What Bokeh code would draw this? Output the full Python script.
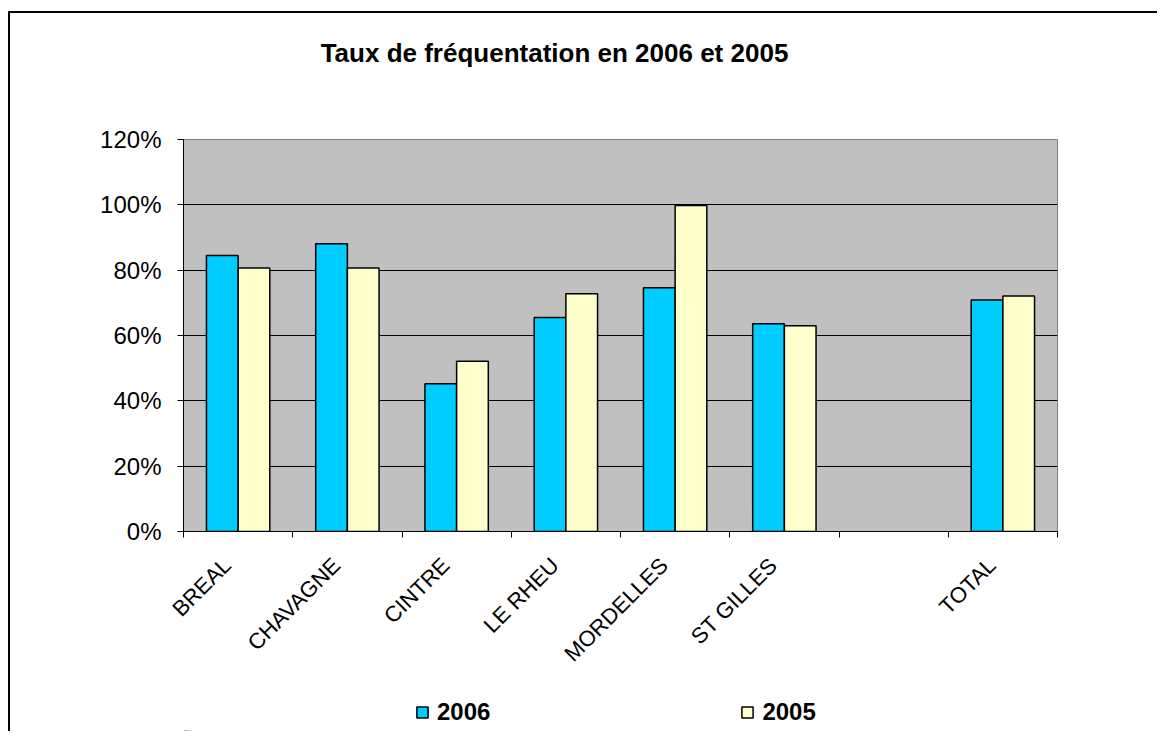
import math
from bokeh.plotting import figure
from bokeh.layouts import column
from bokeh.models import (ColumnDataSource, FixedTicker, NumeralTickFormatter, Range1d,
                          Legend, LegendItem, Label)
from bokeh.embed import file_html
from bokeh.resources import INLINE

# ---- data ----
categories = ["BREAL", "CHAVAGNE", "CINTRE", "LE RHEU", "MORDELLES", "ST GILLES", "", "TOTAL"]
values_2006 = [0.845, 0.881, 0.452, 0.655, 0.746, 0.636, None, 0.709]
values_2005 = [0.807, 0.807, 0.521, 0.728, 0.998, 0.630, None, 0.721]
y_ticks = [0.0, 0.2, 0.4, 0.6, 0.8, 1.0, 1.2]
title_text = "Taux de fréquentation en 2006 et 2005"
series_names = ["2006", "2005"]
colors = ["#00CCFF", "#FFFFCC"]

FONT = "Liberation Sans"
W = 1147
FW = 874

n = len(categories)
centers = [i + 0.5 for i in range(n)]
label_pos = [c - 0.1 for c in centers]
idx = [i for i in range(n) if values_2006[i] is not None]

src06 = ColumnDataSource(dict(x=[centers[i] - 0.145 for i in idx], top=[values_2006[i] for i in idx]))
src05 = ColumnDataSource(dict(x=[centers[i] + 0.145 for i in idx], top=[values_2005[i] for i in idx]))

# ---- title strip (its frame is aligned with the chart frame by the column) ----
tf = figure(width=W, height=70, output_backend="svg", toolbar_location=None,
            x_range=Range1d(0, FW), y_range=Range1d(0, 70),
            x_axis_location=None, y_axis_location=None, min_border=0,
            background_fill_color="white", border_fill_color="white", outline_line_color=None)
tf.grid.visible = False
tf.add_layout(Label(x=371, y=31, text=title_text, text_align="center", text_baseline="alphabetic",
                    text_font=FONT, text_font_style="bold", text_font_size="26px",
                    text_color="black"))

# ---- main chart ----
p = figure(frame_width=FW, frame_height=392, output_backend="svg", toolbar_location=None,
           x_range=Range1d(0, n), y_range=Range1d(0, 1.2),
           min_border_left=173, min_border_right=100, min_border_top=56, min_border_bottom=160,
           background_fill_color="#C0C0C0", border_fill_color="white")
p.title = None
p.outline_line_color = "#808080"
p.outline_line_width = 1

p.vbar(x="x", top="top", width=0.29, source=src06, fill_color=colors[0],
       line_color="black", line_width=1.5)
p.vbar(x="x", top="top", width=0.29, source=src05, fill_color=colors[1],
       line_color="black", line_width=1.5)

p.xgrid.grid_line_color = None
p.ygrid.ticker = FixedTicker(ticks=y_ticks)
p.ygrid.grid_line_color = "black"
p.ygrid.grid_line_width = 1

p.yaxis.ticker = FixedTicker(ticks=y_ticks)
p.yaxis.formatter = NumeralTickFormatter(format="0%")
p.yaxis.major_label_text_font = FONT
p.yaxis.major_label_text_font_size = "24px"
p.yaxis.major_label_text_color = "black"
p.yaxis.major_tick_out = 6
p.yaxis.major_tick_in = 0
p.yaxis.minor_tick_line_color = None
p.yaxis.axis_line_color = "black"
p.yaxis.major_tick_line_color = "black"
p.yaxis.major_label_standoff = 16

p.xaxis.ticker = FixedTicker(ticks=label_pos, minor_ticks=list(range(n + 1)))
p.xaxis.major_label_overrides = {c: lab for c, lab in zip(label_pos, categories)}
p.xaxis.major_label_orientation = math.pi / 4
p.xaxis.major_label_text_font = FONT
p.xaxis.major_label_text_font_size = "22px"
p.xaxis.major_label_text_color = "black"
p.xaxis.major_tick_line_color = None
p.xaxis.minor_tick_line_color = "black"
p.xaxis.minor_tick_out = 6
p.xaxis.minor_tick_in = 0
p.xaxis.axis_line_color = "black"
p.xaxis.major_label_standoff = 24

# ---- legend strip: same series styles, drawn far outside its visible range ----
lf = figure(width=W, height=40, output_backend="svg", toolbar_location=None,
            x_range=Range1d(0, FW), y_range=Range1d(100, 140),
            x_axis_location=None, y_axis_location=None, min_border=0,
            background_fill_color="white", border_fill_color="white", outline_line_color=None)
lf.grid.visible = False
k06 = lf.vbar(x="x", top="top", width=0.29, source=src06, fill_color=colors[0],
              line_color="black", line_width=1.5)
k05 = lf.vbar(x="x", top="top", width=0.29, source=src05, fill_color=colors[1],
              line_color="black", line_width=1.5)
legend = Legend(items=[LegendItem(label=series_names[0], renderers=[k06]),
                       LegendItem(label=series_names[1], renderers=[k05])],
                orientation="horizontal", location=(232, 5),
                glyph_width=14, glyph_height=14, label_standoff=8, spacing=250,
                padding=0, margin=0, border_line_color=None, background_fill_alpha=0,
                label_text_font=FONT, label_text_font_style="bold", label_text_font_size="24px",
                label_text_color="black")
lf.add_layout(legend, "center")

layout = column(tf, p, lf, spacing=0,
                styles={"border-top": "2px solid #000000", "border-left": "2px solid #000000",
                        "margin-left": "8px", "margin-top": "11px"})

open("out.html", "w").write(file_html(layout, INLINE))
